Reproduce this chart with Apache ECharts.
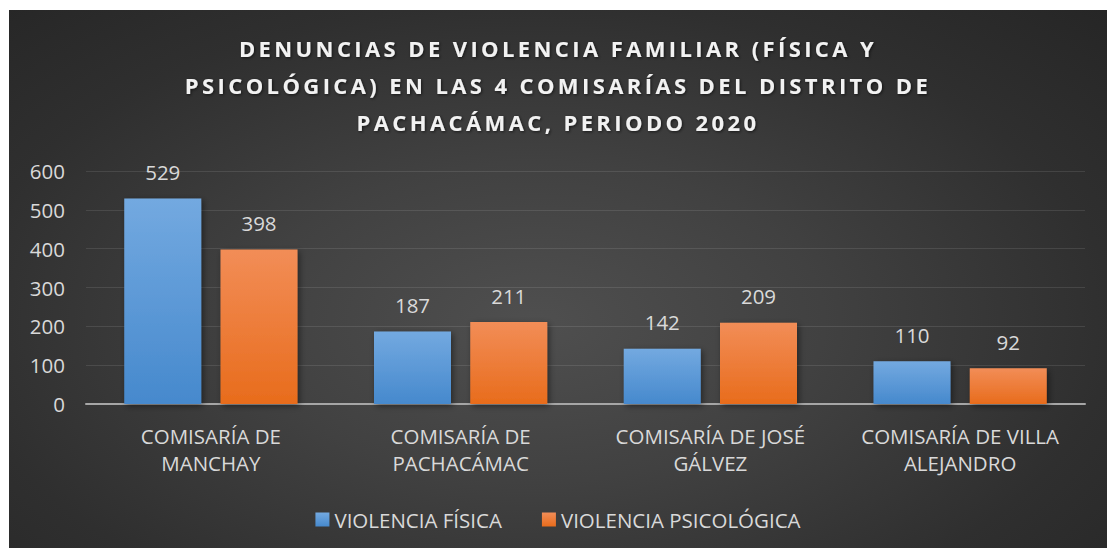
<!DOCTYPE html>
<html>
<head>
<meta charset="utf-8">
<script src="https://cdn.jsdelivr.net/npm/echarts@6/dist/echarts.min.js"></script>
<style>
html,body{margin:0;padding:0;background:#fff;width:1107px;height:548px;overflow:hidden;}
#chart{position:absolute;left:9px;top:10px;width:1098px;height:538px;
background:radial-gradient(ellipse 75% 85% at 48% 58%, #4f4f4f 0%, #414141 35%, #2f2f2f 70%, #252525 100%);}
#chart text[style*="bold"], #chart text[font-weight="bold"], #chart text[style*="700"]{letter-spacing:3.4px;}
</style>
</head>
<body>
<div id="chart"></div>
<script>
const titleText = 'DENUNCIAS DE VIOLENCIA FAMILIAR (FÍSICA Y\nPSICOLÓGICA) EN LAS 4 COMISARÍAS DEL DISTRITO DE\nPACHACÁMAC, PERIODO 2020';
const categories = ['COMISARÍA DE\nMANCHAY', 'COMISARÍA DE\nPACHACÁMAC', 'COMISARÍA DE JOSÉ\nGÁLVEZ', 'COMISARÍA DE VILLA\nALEJANDRO'];
const seriesNames = ['VIOLENCIA FÍSICA', 'VIOLENCIA PSICOLÓGICA'];
const fisica = [529, 187, 142, 110];
const psicologica = [398, 211, 209, 92];
const yTicks = {min: 0, max: 600, interval: 100};

const font = '"Open Sans", "DejaVu Sans", sans-serif';
const txt = '#d9d9d9';
const chart = echarts.init(document.getElementById('chart'), null, {renderer: 'svg'});
function grad(top, bottom){
  return new echarts.graphic.LinearGradient(0,0,0,1,[{offset:0,color:top},{offset:1,color:bottom}]);
}
chart.setOption({
  backgroundColor: 'transparent',
  title: {
    text: titleText, left: 'center', top: 14,
    textStyle: {color: '#f2f2f2', fontFamily: font, fontWeight: 'bold', fontSize: 22, lineHeight: 37,
      textShadowColor: 'rgba(0,0,0,0.6)', textShadowBlur: 3, textShadowOffsetX: 1, textShadowOffsetY: 1}
  },
  grid: {left: 77, right: 22, top: 161, bottom: 144, containLabel: false},
  legend: {
    data: seriesNames, left: 'center', top: 494, itemWidth: 14, itemHeight: 14, itemGap: 40,
    icon: 'rect',
    textStyle: {color: txt, fontFamily: font, fontSize: 20.5}
  },
  xAxis: {
    type: 'category', data: categories,
    axisLine: {lineStyle: {color: '#a6a6a6', width: 2}},
    axisTick: {show: false},
    axisLabel: {color: txt, fontFamily: font, fontSize: 20.5, lineHeight: 27, margin: 18, interval: 0}
  },
  yAxis: {
    type: 'value', min: yTicks.min, max: yTicks.max, interval: yTicks.interval,
    axisLine: {show: false}, axisTick: {show: false},
    axisLabel: {color: txt, fontFamily: font, fontSize: 20.5, margin: 21},
    splitLine: {lineStyle: {color: 'rgba(255,255,255,0.1)', width: 1}}
  },
  series: [
    {name: seriesNames[0], type: 'bar', data: fisica, barWidth: 77, barGap: '25%',
     itemStyle: {color: grad('#73a9e0', '#4689cd'), shadowColor: 'rgba(0,0,0,0.45)', shadowBlur: 6, shadowOffsetX: 2, shadowOffsetY: 2},
     label: {show: true, position: 'top', distance: 16, color: txt, fontFamily: font, fontSize: 20.5}},
    {name: seriesNames[1], type: 'bar', data: psicologica, barWidth: 77,
     itemStyle: {color: grad('#f28d57', '#e86c1c'), shadowColor: 'rgba(0,0,0,0.45)', shadowBlur: 6, shadowOffsetX: 2, shadowOffsetY: 2},
     label: {show: true, position: 'top', distance: 16, color: txt, fontFamily: font, fontSize: 20.5}}
  ]
});
</script>
</body>
</html>
